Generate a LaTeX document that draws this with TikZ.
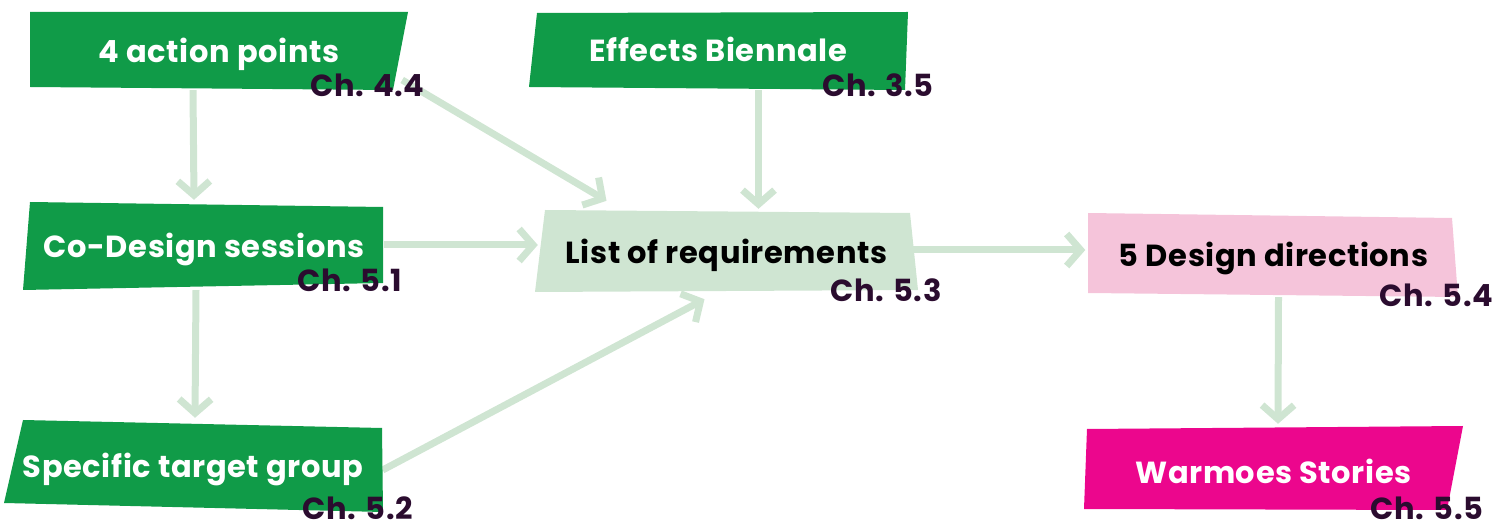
\documentclass[tikz,border=0pt]{standalone}
\usepackage{fontspec}
\setmainfont{Poppins}[LetterSpace=2]
\usetikzlibrary{arrows.meta}
\definecolor{boxgreen}{HTML}{109B48}
\definecolor{palegreen}{HTML}{CFE5D2}
\definecolor{palepink}{HTML}{F5C4DA}
\definecolor{magenta}{HTML}{EC068D}
\definecolor{chapter}{HTML}{2B0C2F}
\pgfdeclarelayer{bg}
\pgfsetlayers{bg,main}
\tikzset{
  bigfont/.style={font=\fontsize{30.5}{33}\selectfont\bfseries},
  % caption node spanning the box: width, height above and below the baseline
  boxnode/.style n args={3}{bigfont, inner sep=0pt, anchor=base,
    minimum width=#1, text height=#2, text depth=#3},
  chap/.style={bigfont, text=chapter, inner sep=0pt, anchor=base},
  link/.style={draw=palegreen, line width=7pt, line join=miter,
    -{Straight Barb[length=14pt,width=32pt,line width=7pt]}},
}
\begin{document}
\begin{tikzpicture}[x=1pt,y=-1pt]
\useasboundingbox (0,0) rectangle (1497,526);

% slanted box shapes
\fill[boxgreen] (30,12) -- (408,12) -- (393,90) -- (30,87) -- cycle;
\fill[boxgreen] (30,202) -- (383,207) -- (383,283) -- (23,290) -- cycle;
\fill[boxgreen] (23,420) -- (382,428) -- (383,512) -- (4,503) -- cycle;
\fill[boxgreen] (537,13) -- (908,12) -- (905,90) -- (529,87) -- cycle;
\fill[palegreen] (545,210) -- (910,213) -- (918,290) -- (535,292) -- cycle;
\fill[palepink] (1088,213) -- (1452,218) -- (1458,297) -- (1088,293) -- cycle;
\fill[magenta] (1087,429) -- (1463,426) -- (1447,510) -- (1084,509) -- cycle;

% box captions
\node[boxnode={378pt}{51pt}{27pt}, text=white] (ap) at (219,63) {4 action points};
\node[boxnode={360pt}{56pt}{32pt}, text=white] (cd) at (204,258) {Co-Design sessions};
\node[boxnode={379pt}{58pt}{34pt}, text=white] (tg) at (193,478) {Specific target group};
\node[boxnode={379pt}{50pt}{28pt}, text=white] (eb) at (718.5,62) {Effects Biennale};
\node[boxnode={383pt}{54pt}{28pt}, text=black] (lr) at (726.5,264) {List of requirements};
\node[boxnode={370pt}{54pt}{30pt}, text=black] (dd) at (1273.5,267) {5 Design directions};
\node[boxnode={379pt}{57pt}{27pt}, text=white] (ws) at (1273.5,483) {Warmoes Stories};

% chapter references
\node[chap] (ch44) at (367.5,97) {Ch. 4.4};
\node[chap] (ch35) at (878,97) {Ch. 3.5};
\node[chap] (ch51) at (350,292) {Ch. 5.1};
\node[chap] (ch53) at (886,302) {Ch. 5.3};
\node[chap] (ch52) at (358,519.5) {Ch. 5.2};
\node[chap] (ch54) at (1436.5,307) {Ch. 5.4};
\node[chap] (ch55) at (1427,519.5) {Ch. 5.5};

% connectors
\begin{pgfonlayer}{bg}
\draw[link] ([xshift=-26pt]ap.south) -- ([xshift=-10pt,yshift=2pt]cd.north);
\draw[link] ([xshift=-8pt]cd.south) -- ([xshift=2pt,yshift=2pt]tg.north);
\draw[link] ([xshift=-6pt,yshift=-29pt]ap.east) -- ([xshift=-120pt,yshift=9pt]lr.north);
\draw[link] ([xshift=40pt]eb.south) -- ([xshift=32pt,yshift=1pt]lr.north);
\draw[link] ([yshift=1pt]cd.east) -- ([xshift=3pt,yshift=6pt]lr.west);
\draw[link] ([yshift=-4pt]tg.east) -- ([xshift=-22pt,yshift=-7pt]lr.south);
\draw[link] ([xshift=-8pt,yshift=1pt]lr.east) -- ([xshift=-3pt,yshift=5pt]dd.west);
\draw[link] ([xshift=5pt]dd.south) -- ([xshift=4.5pt,yshift=2pt]ws.north);
\end{pgfonlayer}
\end{tikzpicture}
\end{document}
